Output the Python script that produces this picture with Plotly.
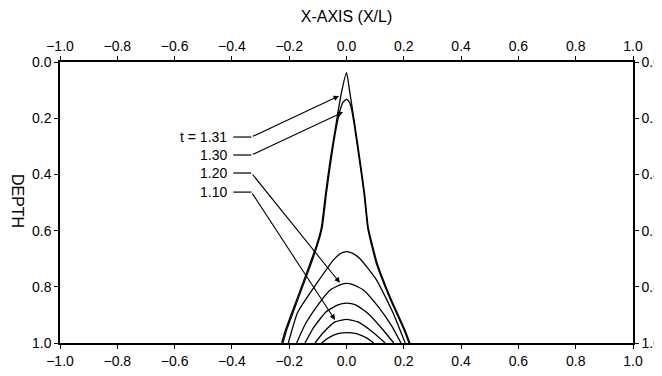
import plotly.graph_objects as go

# ---- data (x = X/L, depth) ----
t131_x = [-0.226, -0.213, -0.170, -0.127, -0.104, -0.088, -0.073, -0.057, -0.038, -0.018, 0.000,
          0.012, 0.030, 0.047, 0.063, 0.076, 0.090, 0.107, 0.152, 0.204, 0.221]
t131_d = [1.000, 0.954, 0.835, 0.716, 0.650, 0.590, 0.467, 0.349, 0.230, 0.111, 0.038,
          0.111, 0.230, 0.349, 0.467, 0.590, 0.650, 0.716, 0.835, 0.954, 1.000]

t130_x = [-0.222, -0.209, -0.166, -0.123, -0.101, -0.085, -0.070, -0.054, -0.035, -0.022, -0.012, 0.000,
          0.010, 0.018, 0.028, 0.045, 0.061, 0.074, 0.087, 0.104, 0.149, 0.201, 0.218]
t130_d = [1.000, 0.954, 0.835, 0.716, 0.650, 0.590, 0.467, 0.349, 0.230, 0.170, 0.143, 0.133,
          0.143, 0.170, 0.230, 0.349, 0.467, 0.590, 0.650, 0.716, 0.835, 0.954, 1.000]

curveA_x = [-0.203, -0.170, -0.104, -0.046, -0.020, 0.000, 0.022, 0.047, 0.105, 0.163, 0.205]
curveA_d = [1.000, 0.890, 0.788, 0.705, 0.681, 0.675, 0.681, 0.700, 0.776, 0.894, 1.000]

t120_x = [-0.174, -0.145, -0.100, -0.055, -0.020, 0.000, 0.022, 0.060, 0.110, 0.158, 0.190]
t120_d = [1.000, 0.935, 0.865, 0.810, 0.792, 0.788, 0.792, 0.812, 0.870, 0.940, 1.000]

curveC_x = [-0.145, -0.115, -0.070, -0.030, 0.000, 0.032, 0.075, 0.125, 0.165]
curveC_d = [1.000, 0.945, 0.888, 0.864, 0.858, 0.864, 0.895, 0.950, 1.000]

t110_x = [-0.110, -0.080, -0.040, 0.000, 0.040, 0.090, 0.135]
t110_d = [1.000, 0.962, 0.925, 0.916, 0.925, 0.960, 1.000]

curveE_x = [-0.087, -0.060, -0.030, 0.000, 0.035, 0.070, 0.095]
curveE_d = [1.000, 0.980, 0.967, 0.963, 0.967, 0.982, 1.000]

x_ticks = [-1.0, -0.8, -0.6, -0.4, -0.2, 0.0, 0.2, 0.4, 0.6, 0.8, 1.0]
y_ticks = [0.0, 0.2, 0.4, 0.6, 0.8, 1.0]

# labels: text, label depth, arrow tip (x, depth)
label_text = ["t = 1.31", "1.30", "1.20", "1.10"]
label_depth = [0.267, 0.331, 0.395, 0.463]
arrow_tip_x = [-0.026, -0.012, -0.023, -0.040]
arrow_tip_d = [0.121, 0.178, 0.786, 0.918]

FONT = "Liberation Sans, Arial, Helvetica, sans-serif"

fig = go.Figure()
curves = [
    ("t=1.31", t131_x, t131_d),
    ("t=1.30", t130_x, t130_d),
    ("curve A", curveA_x, curveA_d),
    ("t=1.20", t120_x, t120_d),
    ("curve C", curveC_x, curveC_d),
    ("t=1.10", t110_x, t110_d),
]
for name, xs, ds in curves:
    fig.add_trace(go.Scatter(x=xs, y=ds, mode="lines", name=name,
                             line=dict(color="black", width=1.3, shape="spline", smoothing=0.5),
                             showlegend=False, hoverinfo="skip"))
# one curve on the mirrored axes so they are drawn
fig.add_trace(go.Scatter(x=curveE_x, y=curveE_d, mode="lines", name="curve E",
                         xaxis="x2", yaxis="y2",
                         line=dict(color="black", width=1.3, shape="spline", smoothing=0.5),
                         showlegend=False, hoverinfo="skip"))

axis_common = dict(showgrid=False, zeroline=False, showline=True, linecolor="black",
                   linewidth=1.5, ticks="outside", ticklen=4, tickcolor="black",
                   tickwidth=1, tickformat=".1f",
                   tickfont=dict(family=FONT, size=14, color="black"))

fig.update_layout(
    width=654, height=368,
    margin=dict(l=52, r=29, t=54, b=33, autoexpand=False),
    paper_bgcolor="white", plot_bgcolor="white",
    font=dict(family=FONT, color="black"),
    xaxis=dict(range=[-1, 1], tickvals=x_ticks, side="bottom", **axis_common),
    xaxis2=dict(range=[-1, 1], tickvals=x_ticks, side="top", overlaying="x", anchor="y",
                title=dict(text="X-AXIS (X/L)", font=dict(family=FONT, size=16, color="black"),
                           standoff=11),
                **axis_common),
    yaxis=dict(range=[1, 0], tickvals=y_ticks, side="left", **axis_common),
    yaxis2=dict(range=[1, 0], tickvals=y_ticks, side="right", overlaying="y", anchor="x",
                **axis_common),
)

annotations = [dict(text="DEPTH", textangle=90, xref="paper", yref="paper",
                    x=-0.073, y=0.505, xanchor="center", yanchor="middle", showarrow=False,
                    font=dict(family=FONT, size=16, color="black"))]
shapes = []
for txt, d, tx, td in zip(label_text, label_depth, arrow_tip_x, arrow_tip_d):
    annotations.append(dict(text=txt, x=-0.41, y=d, xref="x", yref="y", xanchor="right",
                            yanchor="middle", showarrow=False,
                            font=dict(family=FONT, size=14, color="black")))
    shapes.append(dict(type="line", xref="x", yref="y", x0=-0.395, x1=-0.332, y0=d, y1=d,
                       line=dict(color="black", width=1.2)))
    annotations.append(dict(text="", x=tx, y=td, xref="x", yref="y", ax=-0.332, ay=d,
                            axref="x", ayref="y", showarrow=True, arrowhead=2, arrowsize=1,
                            arrowwidth=1.1, arrowcolor="black", standoff=0))
fig.update_layout(annotations=annotations, shapes=shapes)

fig.write_html("out.html")
